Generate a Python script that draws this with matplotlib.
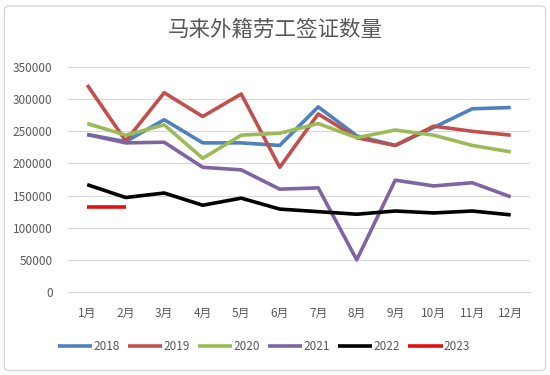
import matplotlib
matplotlib.use("Agg")
import matplotlib.pyplot as plt
from matplotlib.patches import FancyBboxPatch

plt.rcParams['font.family'] = ['Noto Sans CJK SC', 'DejaVu Sans']

months = ["1月", "2月", "3月", "4月", "5月", "6月", "7月", "8月", "9月", "10月", "11月", "12月"]
y2018 = [245000, 234000, 268000, 232000, 232000, 228000, 288000, 243000, 228000, 256000, 285000, 287000]
y2019 = [322000, 235000, 310000, 273000, 308000, 194000, 277000, 240000, 228000, 258000, 250000, 244000]
y2020 = [262000, 244000, 260000, 208000, 244000, 247000, 262000, 240000, 252000, 244000, 228000, 218000]
y2021 = [245000, 232000, 233000, 194000, 190000, 160000, 162000, 50000, 174000, 165000, 170000, 148000]
y2022 = [167000, 147000, 154000, 135000, 146000, 129000, 125000, 121000, 126000, 123000, 126000, 120000]
y2023 = [133000, 133000]

series = [
    ("2018", y2018, "#4F81BD"),
    ("2019", y2019, "#C0504D"),
    ("2020", y2020, "#9BBB59"),
    ("2021", y2021, "#8064A2"),
    ("2022", y2022, "#000000"),
    ("2023", y2023, "#E01010"),
]

fig = plt.figure(figsize=(5.5, 3.75), dpi=100)
# chart border, kept behind the axes
border = FancyBboxPatch((0.008, 0.012), 0.984, 0.972, boxstyle="round,pad=0,rounding_size=0.01",
                        transform=fig.transFigure, fc="white", ec="#D9D9D9", lw=1, zorder=-10)
fig.patches.append(border)

ax = fig.add_axes([0.1236, 0.2213, 0.84, 0.60])
ax.patch.set_alpha(0)
x = list(range(1, 13))
for name, vals, color in series:
    ax.plot(x[:len(vals)], vals, color=color, lw=2.6, label=name, solid_capstyle="butt")

ax.set_xlim(0.5, 12.5)
ax.set_ylim(0, 350000)
ax.set_yticks(range(0, 350001, 50000))
ax.set_xticks(x)
ax.set_xticklabels(months)
ax.yaxis.grid(True, color="#D9D9D9", lw=0.8)
ax.set_axisbelow(True)
for s in ["top", "right", "left"]:
    ax.spines[s].set_visible(False)
ax.spines["bottom"].set_color("#D9D9D9")
ax.tick_params(length=0, labelsize=8.5, labelcolor="#595959")
ax.tick_params(axis="x", pad=11)
ax.tick_params(axis="y", pad=11)

fig.text(0.5, 0.92, "马来外籍劳工签证数量", ha="center", va="center", fontsize=15.5, color="#595959")

fig.legend(loc="center", bbox_to_anchor=(0.48, 0.075), ncol=6, frameon=False, fontsize=8.5,
           labelcolor="#595959", handlelength=2.9, handletextpad=0.1, columnspacing=0.7)

fig.savefig("out.png", dpi=100)
